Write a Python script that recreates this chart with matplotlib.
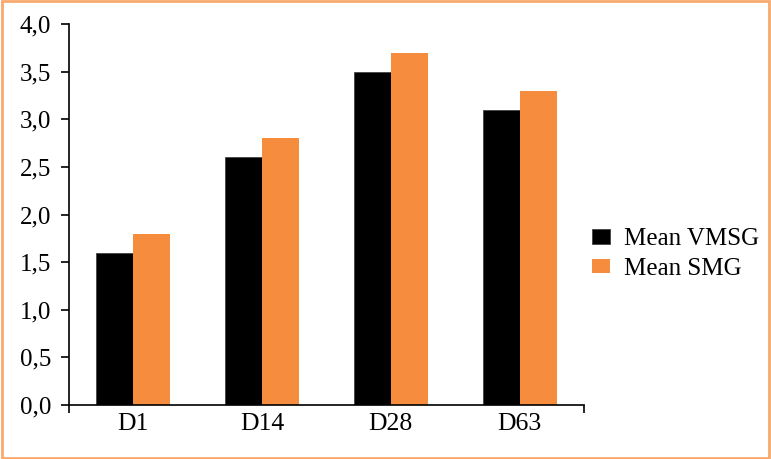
import numpy as np
import matplotlib
matplotlib.use('Agg')
import matplotlib.pyplot as plt
from matplotlib.patches import Rectangle

categories = ['D1', 'D14', 'D28', 'D63']
mean_vmsg = [1.6, 2.6, 3.5, 3.1]
mean_smg = [1.8, 2.8, 3.7, 3.3]
yticks = [0.0, 0.5, 1.0, 1.5, 2.0, 2.5, 3.0, 3.5, 4.0]

plt.rcParams['font.family'] = ['Liberation Serif', 'DejaVu Serif']

fig = plt.figure(figsize=(7.71, 4.59), dpi=100)
ax = fig.add_axes([0.0895, 0.1176, 0.668, 0.83])

x = np.arange(len(categories))
w = 0.287
ax.bar(x - w/2, mean_vmsg, w, color='black', edgecolor='#444444', linewidth=0.6, label='Mean VMSG')
ax.bar(x + w/2, mean_smg, w, color='#F68D3E', label='Mean SMG')

ax.set_xlim(-0.5, 3.5)
ax.set_ylim(0, 4.0)
ax.set_yticks(yticks)
ax.set_yticklabels([f'{v:.1f}'.replace('.', ',') for v in yticks], fontsize=18)
ax.set_xticks(x)
ax.set_xticklabels(categories, fontsize=18.5)
ax.set_xticks([-0.5, 3.5], minor=True)
ax.tick_params(axis='x', which='major', length=0, pad=6)
ax.tick_params(axis='x', which='minor', length=6, width=1.2, direction='out')
ax.tick_params(axis='y', length=6, width=1.2, pad=7, direction='out')
for s in ['top', 'right']:
    ax.spines[s].set_visible(False)
ax.spines['left'].set_linewidth(1.2)
ax.spines['bottom'].set_linewidth(1.2)

ax.legend(loc='center left', bbox_to_anchor=(0.768, 0.4466), bbox_transform=fig.transFigure,
          frameon=False, fontsize=18, borderpad=0, borderaxespad=0,
          handlelength=0.7, handleheight=0.52, handletextpad=0.56, labelspacing=0.3)

fig.patches.append(Rectangle((0.002, 0.003), 0.996, 0.994, transform=fig.transFigure,
                             fill=False, edgecolor='#F7A96E', linewidth=2))

fig.savefig('out.png', dpi=100)
